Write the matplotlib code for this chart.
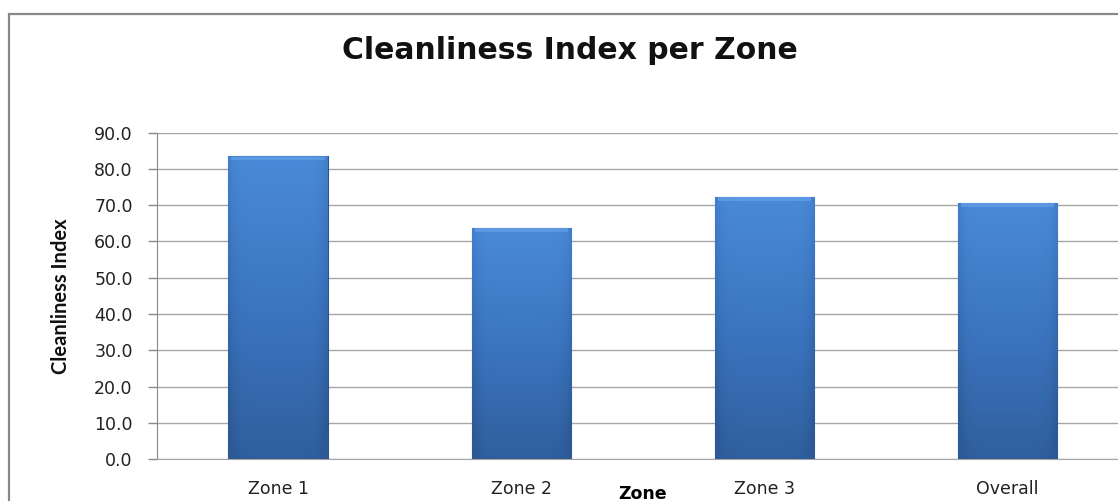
import numpy as np
import matplotlib.pyplot as plt
from matplotlib.patches import Rectangle
from matplotlib.colors import LinearSegmentedColormap

# data
zones = ['Zone 1', 'Zone 2', 'Zone 3', 'Overall']
index_values = [83.6, 63.8, 72.4, 70.7]
y_ticks = np.arange(0, 91, 10)

fig = plt.figure(figsize=(11.18, 5.01), dpi=100)
ax = fig.add_axes([0.1402, 0.0838, 0.8697, 0.6513])

x = np.arange(len(zones))
bars = ax.bar(x, index_values, width=0.41, color='#3d78c4', edgecolor='#2b5590', linewidth=0.8, zorder=3)

# vertical gradient inside each bar (lighter top, darker bottom, darker sides)
cmap = LinearSegmentedColormap.from_list('barblue', ['#2d5a96', '#3a73bd', '#4a8ad8'])
gy = np.linspace(0, 1, 200)[:, None]
gx = np.linspace(-1, 1, 60)[None, :]
grad = gy * 0.9 + 0.1 - 0.25 * gx ** 8
for b in bars:
    im = ax.imshow(grad, cmap=cmap, vmin=0, vmax=1, origin='lower', aspect='auto',
                   extent=[b.get_x(), b.get_x() + b.get_width(), 0, b.get_height()], zorder=3.5)
    im.set_clip_path(b)
    # top bevel highlight
    ax.bar(b.get_x() + b.get_width() / 2, 0.9, width=b.get_width() * 0.94, bottom=b.get_height() - 1.1,
           color='#6aa4ea', alpha=0.6, linewidth=0, zorder=4)

ax.set_xlim(-0.5, len(zones) - 0.5)
ax.set_ylim(0, 90)
ax.set_yticks(y_ticks)
ax.set_yticklabels(['%.1f' % v for v in y_ticks], fontsize=12.5, color='#222222')
ax.set_xticks(x)
ax.set_xticklabels(zones, fontsize=12.5, color='#222222')
ax.tick_params(axis='x', length=0, pad=15)
ax.tick_params(axis='y', length=6.3, width=1, color='#888888', pad=11)

ax.grid(axis='y', color='#a6a6a6', linewidth=1, zorder=0)
for s in ['top', 'right']:
    ax.spines[s].set_visible(False)
ax.spines['left'].set_color('#888888')
ax.spines['bottom'].set_color('#a6a6a6')

ax.set_ylabel('Cleanliness Index', fontsize=14.5, fontweight='bold', family='Lato', color='#111111')
ax.yaxis.set_label_coords(-0.088, 0.5)
ax.set_xlabel('Zone', fontsize=12.5, fontweight='bold', family='DejaVu Sans', va='center')
ax.xaxis.set_label_coords(0.5, -0.107)

fig.text(0.51, 0.9, 'Cleanliness Index per Zone', ha='center', va='center',
         fontsize=21.5, fontweight='bold', family='DejaVu Sans', color='#111111')

# outer chart frame
fig.add_artist(Rectangle((0.008, -0.1), 1.2, 1.072, transform=fig.transFigure,
                         fill=False, edgecolor='#888888', linewidth=1.6))

fig.savefig('out.png', dpi=100)
